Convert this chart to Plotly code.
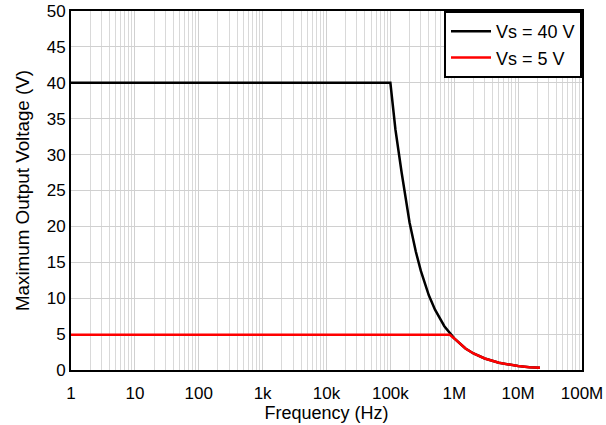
import plotly.graph_objects as go

# Data
freq_40 = [1, 1e5, 1.2e5, 1.5e5, 2e5, 2.5e5, 3e5, 4e5, 5e5, 7e5, 1e6, 1.5e6, 2e6, 3e6, 5e6, 7e6, 1e7, 1.5e7, 2.2e7]
vout_40 = [40, 40, 33.5, 27.5, 20.5, 16.5, 13.8, 10.4, 8.4, 6.1, 4.4, 3.0, 2.3, 1.6, 1.0, 0.75, 0.55, 0.4, 0.3]
freq_5 = [1, 8.5e5, 1e6, 1.5e6, 2e6, 3e6, 5e6, 7e6, 1e7, 1.5e7, 2.2e7]
vout_5 = [4.9, 4.9, 4.4, 3.0, 2.3, 1.6, 1.0, 0.75, 0.55, 0.4, 0.3]
x_tickvals = [1, 10, 100, 1e3, 1e4, 1e5, 1e6, 1e7, 1e8]
x_ticktext = ["1", "10", "100", "1k", "10k", "100k", "1M", "10M", "100M"]

fig = go.Figure()
fig.add_trace(go.Scatter(x=freq_40, y=vout_40, mode="lines", name="Vs = 40 V",
                         line=dict(color="black", width=2.5)))
fig.add_trace(go.Scatter(x=freq_5, y=vout_5, mode="lines", name="Vs = 5 V",
                         line=dict(color="#ff0000", width=2.5)))

fig.update_layout(
    width=606, height=425,
    margin=dict(l=71, r=24, t=11, b=55),
    paper_bgcolor="white", plot_bgcolor="white",
    font=dict(family="Liberation Sans, Arial", size=17, color="black"),
    showlegend=True,
    legend=dict(x=1.0, y=1.0, xanchor="right", yanchor="top",
                bgcolor="white", bordercolor="black", borderwidth=2,
                font=dict(size=18), tracegroupgap=0, itemwidth=40),
)
fig.update_xaxes(
    type="log", range=[0, 8], automargin=False,
    tickvals=x_tickvals, ticktext=x_ticktext, ticklabelstandoff=7,
    showgrid=True, gridcolor="#d0d0d0", gridwidth=1,
    minor=dict(showgrid=True, gridcolor="#d9d9d9", dtick="D1"),
    showline=True, linecolor="black", linewidth=2, mirror=True,
    ticks="", zeroline=False,
    title=dict(text="Frequency (Hz)", standoff=0, font=dict(size=18)),
)
fig.update_yaxes(
    range=[0, 50], dtick=5, automargin=False,
    showgrid=True, gridcolor="#d0d0d0", gridwidth=1,
    showline=True, linecolor="black", linewidth=2, mirror=True,
    ticks="", zeroline=False,
    title=dict(text="Maximum Output Voltage (V)", standoff=12, font=dict(size=18.8)),
)
fig.write_html("out.html", config={"displayModeBar": False},
               post_script="document.body.style.margin='0';")
